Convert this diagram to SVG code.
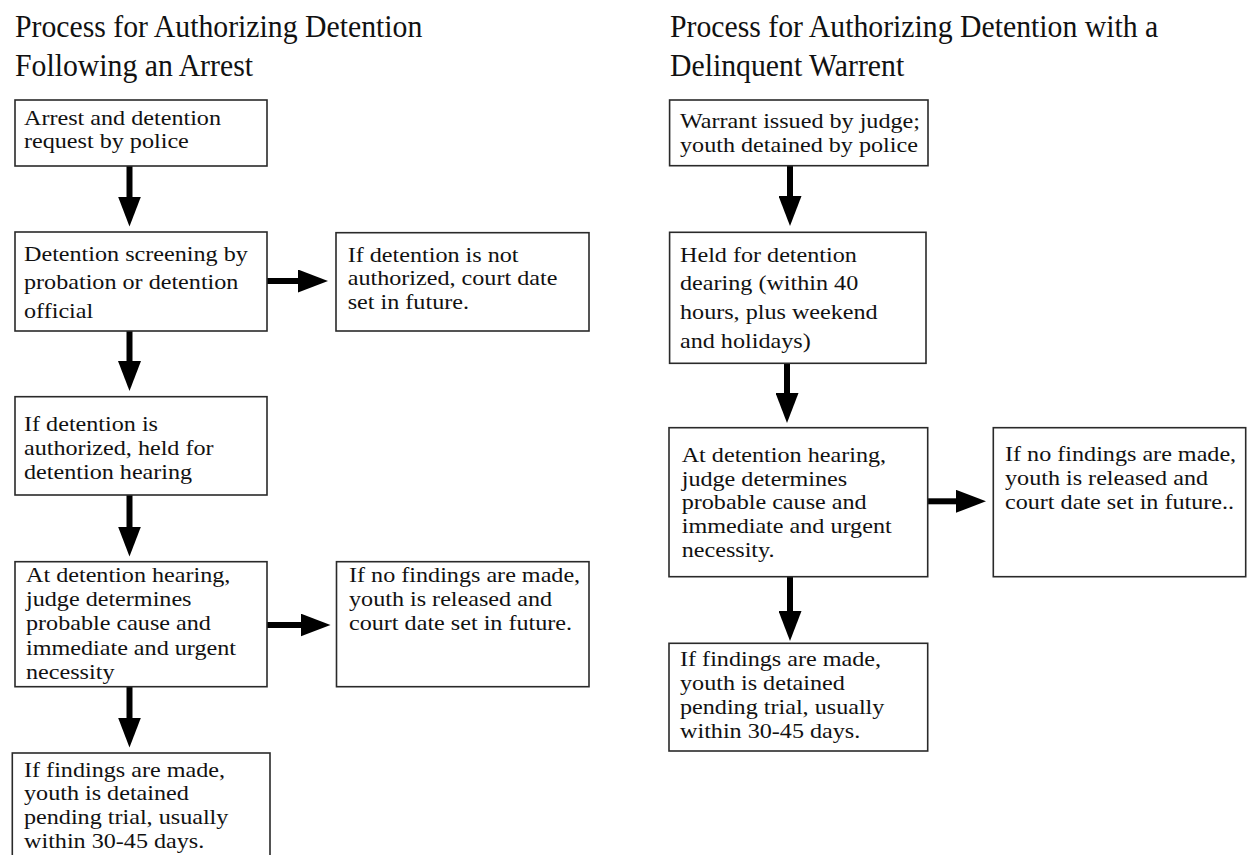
<svg xmlns="http://www.w3.org/2000/svg" width="1248" height="855" viewBox="0 0 1248 855">
<style>
  .box { fill: #ffffff; stroke: #2a2a2a; stroke-width: 1.6; }
  .t { font-family: "Liberation Serif", "Times New Roman", serif; font-size: 21px; fill: #111111; }
  .title { font-family: "Liberation Serif", "Times New Roman", serif; font-size: 31px; fill: #111111; }
  .conn { stroke: #000000; stroke-width: 6; fill: none; marker-end: url(#head); }
</style>
<defs>
  <marker id="head" markerUnits="userSpaceOnUse" viewBox="0 0 30 23" markerWidth="30" markerHeight="23" refX="1" refY="11.5" orient="auto">
    <path d="M0,0 L30,11.5 L0,23 Z" fill="#000000"/>
  </marker>
</defs>
<rect width="1248" height="855" fill="#ffffff"/>

<g id="title-left">
  <text class="title" transform="translate(15,37.3) scale(0.96 1)"><tspan x="0" y="0">Process for Authorizing Detention</tspan><tspan x="0" y="38.7">Following an Arrest</tspan></text>
</g>
<g id="title-right">
  <text class="title" transform="translate(670,37.3) scale(0.96 1)"><tspan x="0" y="0">Process for Authorizing Detention with a</tspan><tspan x="0" y="38.7">Delinquent Warrent</tspan></text>
</g>

<g id="connectors">
  <line class="conn" x1="129.5" y1="166" x2="129.5" y2="197.5"/>
  <line class="conn" x1="267" y1="281" x2="299" y2="281"/>
  <line class="conn" x1="129.5" y1="331" x2="129.5" y2="362"/>
  <line class="conn" x1="129.5" y1="495" x2="129.5" y2="527.5"/>
  <line class="conn" x1="267" y1="625" x2="301.5" y2="625"/>
  <line class="conn" x1="129.5" y1="687" x2="129.5" y2="718.5"/>
  <line class="conn" x1="790" y1="165.7" x2="790" y2="197"/>
  <line class="conn" x1="787" y1="363.3" x2="787" y2="394"/>
  <line class="conn" x1="927.7" y1="501.3" x2="957" y2="501.3"/>
  <line class="conn" x1="790" y1="576.7" x2="790" y2="612"/>
</g>

<g id="n-arrest">
  <rect class="box" x="15" y="100" width="252" height="66"/>
  <text class="t" transform="translate(24,125) scale(1.15 1)"><tspan x="0" y="0">Arrest and detention</tspan><tspan x="0" y="23.3">request by police</tspan></text>
</g>
<g id="n-screening">
  <rect class="box" x="15" y="232" width="252" height="99"/>
  <text class="t" transform="translate(24,260.7) scale(1.15 1)"><tspan x="0" y="0">Detention screening by</tspan><tspan x="0" y="28.6">probation or detention</tspan><tspan x="0" y="57.3">official</tspan></text>
</g>
<g id="n-not-authorized">
  <rect class="box" x="336" y="232.7" width="253" height="98.3"/>
  <text class="t" transform="translate(347.7,261.7) scale(1.15 1)"><tspan x="0" y="0">If detention is not</tspan><tspan x="0" y="23.8">authorized, court date</tspan><tspan x="0" y="47.6">set in future.</tspan></text>
</g>
<g id="n-authorized">
  <rect class="box" x="15" y="396.7" width="252" height="98.3"/>
  <text class="t" transform="translate(24,430.7) scale(1.15 1)"><tspan x="0" y="0">If detention is</tspan><tspan x="0" y="24">authorized, held for</tspan><tspan x="0" y="48">detention hearing</tspan></text>
</g>
<g id="n-hearing-left">
  <rect class="box" x="15" y="561.7" width="252" height="125"/>
  <text class="t" transform="translate(26,581.7) scale(1.15 1)"><tspan x="0" y="0">At detention hearing,</tspan><tspan x="0" y="24.4">judge determines</tspan><tspan x="0" y="48.8">probable cause and</tspan><tspan x="0" y="73.2">immediate and urgent</tspan><tspan x="0" y="97.6">necessity</tspan></text>
</g>
<g id="n-no-findings-left">
  <rect class="box" x="336.5" y="561.7" width="252.5" height="125"/>
  <text class="t" transform="translate(349,581.7) scale(1.15 1)"><tspan x="0" y="0">If no findings are made,</tspan><tspan x="0" y="24.1">youth is released and</tspan><tspan x="0" y="48.3">court date set in future.</tspan></text>
</g>
<g id="n-findings-left">
  <rect class="box" x="12.3" y="753" width="257.7" height="110"/>
  <text class="t" transform="translate(24,776.7) scale(1.15 1)"><tspan x="0" y="0">If findings are made,</tspan><tspan x="0" y="23.7">youth is detained</tspan><tspan x="0" y="47.4">pending trial, usually</tspan><tspan x="0" y="71">within 30-45 days.</tspan></text>
</g>

<g id="n-warrant">
  <rect class="box" x="669.6" y="100" width="258.4" height="65.7"/>
  <text class="t" transform="translate(680,128.3) scale(1.15 1)"><tspan x="0" y="0">Warrant issued by judge;</tspan><tspan x="0" y="23.4">youth detained by police</tspan></text>
</g>
<g id="n-held">
  <rect class="box" x="669.6" y="232.3" width="256.4" height="131"/>
  <text class="t" transform="translate(680,261.7) scale(1.15 1)"><tspan x="0" y="0">Held for detention</tspan><tspan x="0" y="28.8">dearing (within 40</tspan><tspan x="0" y="57.6">hours, plus weekend</tspan><tspan x="0" y="86.4">and holidays)</tspan></text>
</g>
<g id="n-hearing-right">
  <rect class="box" x="669" y="427.7" width="258.7" height="149"/>
  <text class="t" transform="translate(681.7,461.7) scale(1.15 1)"><tspan x="0" y="0">At detention hearing,</tspan><tspan x="0" y="23.9">judge determines</tspan><tspan x="0" y="47.8">probable cause and</tspan><tspan x="0" y="71.7">immediate and urgent</tspan><tspan x="0" y="95.6">necessity.</tspan></text>
</g>
<g id="n-no-findings-right">
  <rect class="box" x="993.3" y="427.7" width="252.4" height="149"/>
  <text class="t" transform="translate(1005,461) scale(1.15 1)"><tspan x="0" y="0">If no findings are made,</tspan><tspan x="0" y="24.1">youth is released and</tspan><tspan x="0" y="48.3">court date set in future..</tspan></text>
</g>
<g id="n-findings-right">
  <rect class="box" x="669" y="643.3" width="258.7" height="107.7"/>
  <text class="t" transform="translate(680,666) scale(1.15 1)"><tspan x="0" y="0">If findings are made,</tspan><tspan x="0" y="24.1">youth is detained</tspan><tspan x="0" y="48.2">pending trial, usually</tspan><tspan x="0" y="72.3">within 30-45 days.</tspan></text>
</g>
</svg>
